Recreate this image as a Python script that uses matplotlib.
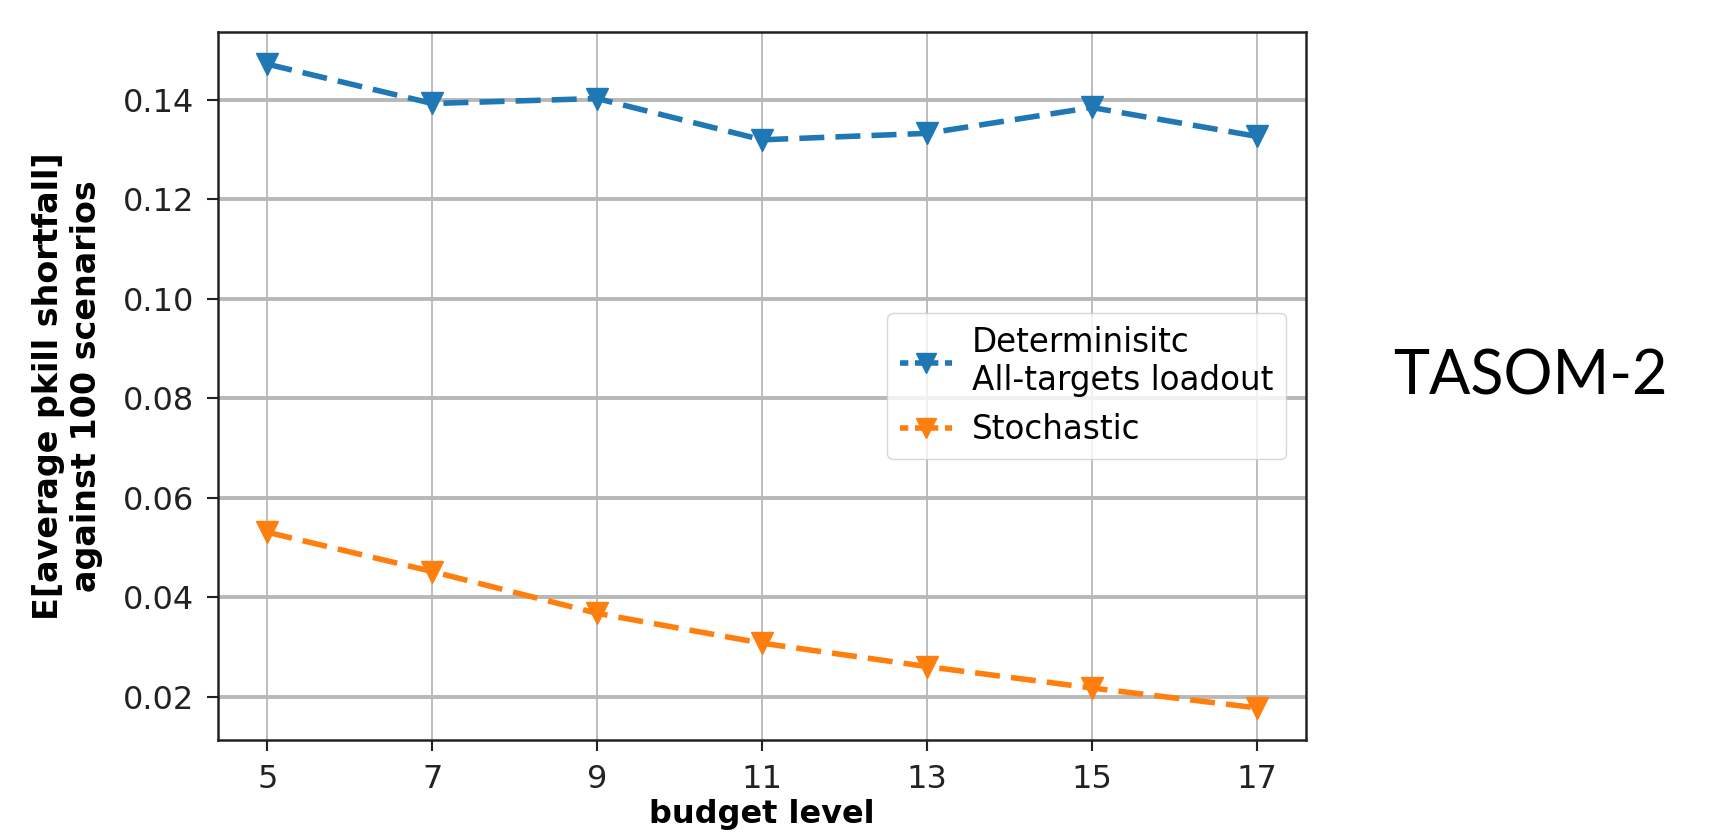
import numpy as np
import matplotlib
matplotlib.use('Agg')
import matplotlib.pyplot as plt

# budget levels and expected shortfall
budget = [5, 7, 9, 11, 13, 15, 17]
deterministic = [0.1472, 0.1393, 0.1403, 0.1320, 0.1333, 0.1385, 0.1327]
stochastic = [0.0531, 0.0452, 0.0368, 0.0308, 0.0261, 0.0218, 0.0178]
series_labels = ['Determinisitc\nAll-targets loadout', 'Stochastic']

fig = plt.figure(figsize=(17.14, 8.36), dpi=100)
ax = fig.add_axes([0.1272, 0.1148, 0.762 - 0.1272, 0.9617 - 0.1148])

ax.plot(budget, deterministic, linestyle='--', dashes=(4.5, 2), marker='v',
        markersize=16, linewidth=4, color='#1f77b4', label=series_labels[0])
ax.plot(budget, stochastic, linestyle='--', dashes=(4.5, 2), marker='v',
        markersize=16, linewidth=4, color='#ff7f0e', label=series_labels[1])

ax.set_xticks(budget)
ax.grid(True, axis='x', color='#b8b8b8', linewidth=1.3)
ax.grid(True, axis='y', color='#b8b8b8', linewidth=2.8)
ax.tick_params(labelsize=23, length=8, width=1.5, pad=9, colors='#222222')
for sp in ax.spines.values():
    sp.set_linewidth(1.8)
    sp.set_color('#222222')

ax.set_xlabel('budget level', fontsize=23, fontweight='bold', labelpad=3)
ax.set_ylabel('E[average pkill shortfall]\nagainst 100 scenarios', fontsize=24,
              fontweight='bold', labelpad=14)

leg = ax.legend(loc='center right', fontsize=23.5, borderaxespad=0.6,
                handlelength=1.6, handletextpad=0.6, markerscale=0.9)
for h in leg.get_lines():
    h.set_dashes((1.5, 1.2))

fig.text(0.813, 0.549, 'TASOM-2', fontsize=44, family='Lato', ha='left', va='center')

plt.savefig('out.png', dpi=100)
